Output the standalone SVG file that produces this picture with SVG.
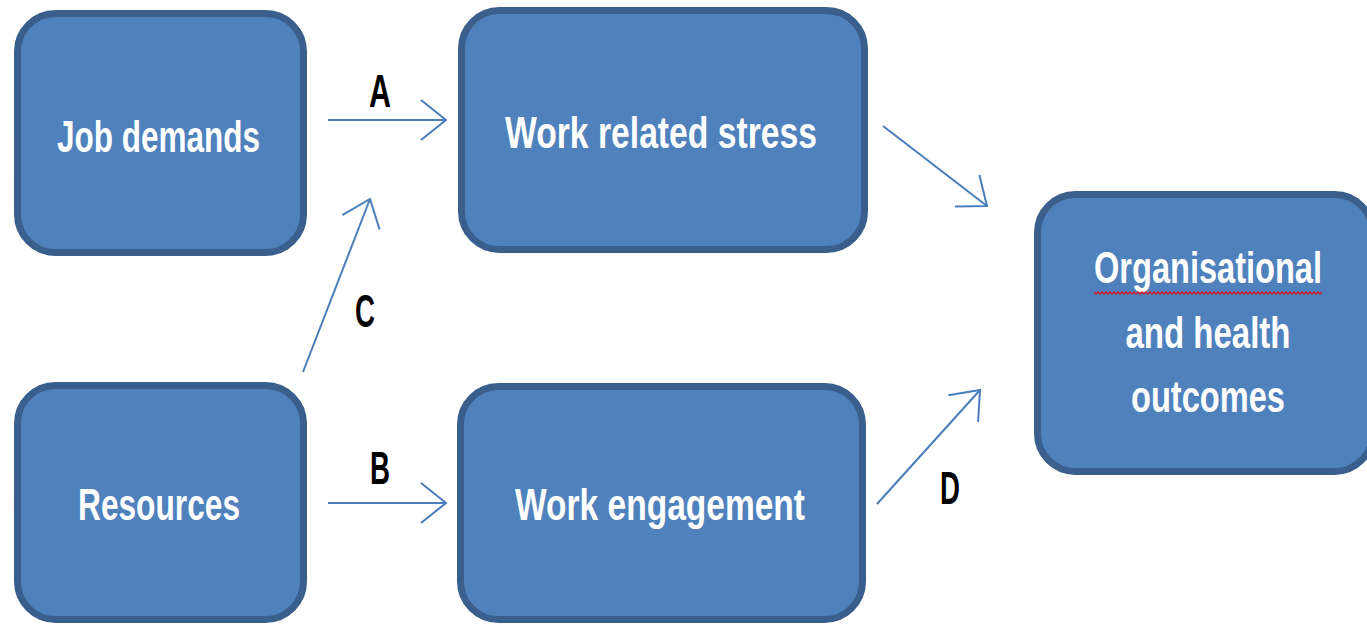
<svg xmlns="http://www.w3.org/2000/svg" width="1367" height="625" viewBox="0 0 1367 625">
<style>
.box{fill:#4f81bd;stroke:#3a5f8c;stroke-width:7}
.t{font-family:"Liberation Sans",Arial,sans-serif;font-weight:bold;font-size:45px;fill:#ffffff;text-anchor:middle}
.lbl{font-family:"Liberation Sans",Arial,sans-serif;font-weight:bold;font-size:46px;fill:#000000;text-anchor:middle}
.c{fill:none;stroke:#4a7ebb;stroke-width:2}
</style>
<defs>
<marker id="ah" markerUnits="userSpaceOnUse" markerWidth="40" markerHeight="50" refX="0" refY="0" viewBox="-30 -25 35 50" orient="auto" overflow="visible">
<path d="M-25,-20 L0,0 L-25,20" fill="none" stroke="#4a7ebb" stroke-width="2"/>
</marker>
</defs>
<rect width="1367" height="625" fill="#ffffff"/>
<g id="job-demands">
<rect class="box" x="17.5" y="13.5" width="286" height="239" rx="38"/>
<text class="t" x="158.5" y="152" textLength="203" lengthAdjust="spacingAndGlyphs">Job demands</text>
</g>
<g id="resources">
<rect class="box" x="17.5" y="385.5" width="286" height="234" rx="38"/>
<text class="t" x="159" y="520" textLength="162" lengthAdjust="spacingAndGlyphs">Resources</text>
</g>
<g id="work-related-stress">
<rect class="box" x="461.5" y="10.5" width="403" height="239" rx="38"/>
<text class="t" x="661" y="148" textLength="312" lengthAdjust="spacingAndGlyphs">Work related stress</text>
</g>
<g id="work-engagement">
<rect class="box" x="460.5" y="386.5" width="402" height="233" rx="38"/>
<text class="t" x="660" y="520" textLength="290" lengthAdjust="spacingAndGlyphs">Work engagement</text>
</g>
<g id="outcomes">
<rect class="box" x="1037.5" y="194.5" width="335" height="277" rx="38"/>
<text class="t" x="1208" y="283" textLength="228" lengthAdjust="spacingAndGlyphs">Organisational</text>
<path d="M1094,292 l2,2 l2,-2 l2,2 l2,-2 l2,2 l2,-2 l2,2 l2,-2 l2,2 l2,-2 l2,2 l2,-2 l2,2 l2,-2 l2,2 l2,-2 l2,2 l2,-2 l2,2 l2,-2 l2,2 l2,-2 l2,2 l2,-2 l2,2 l2,-2 l2,2 l2,-2 l2,2 l2,-2 l2,2 l2,-2 l2,2 l2,-2 l2,2 l2,-2 l2,2 l2,-2 l2,2 l2,-2 l2,2 l2,-2 l2,2 l2,-2 l2,2 l2,-2 l2,2 l2,-2 l2,2 l2,-2 l2,2 l2,-2 l2,2 l2,-2 l2,2 l2,-2 l2,2 l2,-2 l2,2 l2,-2 l2,2 l2,-2 l2,2 l2,-2 l2,2 l2,-2 l2,2 l2,-2 l2,2 l2,-2 l2,2 l2,-2 l2,2 l2,-2 l2,2 l2,-2 l2,2 l2,-2 l2,2 l2,-2 l2,2 l2,-2 l2,2 l2,-2 l2,2 l2,-2 l2,2 l2,-2 l2,2 l2,-2 l2,2 l2,-2 l2,2 l2,-2 l2,2 l2,-2 l2,2 l2,-2 l2,2 l2,-2 l2,2 l2,-2 l2,2 l2,-2 l2,2 l2,-2 l2,2 l2,-2 l2,2 l2,-2 l2,2 l2,-2 l2,2 l2,-2" fill="none" stroke="#d0202a" stroke-width="1.4"/>
<text class="t" x="1208" y="348" textLength="165" lengthAdjust="spacingAndGlyphs">and health</text>
<text class="t" x="1208" y="412" textLength="154" lengthAdjust="spacingAndGlyphs">outcomes</text>
</g>
<g id="connectors">
<line class="c" x1="328" y1="120" x2="446" y2="120" marker-end="url(#ah)"/>
<line class="c" x1="328" y1="503" x2="446" y2="503" marker-end="url(#ah)"/>
<line class="c" x1="303" y1="372" x2="370" y2="199" marker-end="url(#ah)"/>
<line class="c" x1="883" y1="126" x2="987" y2="206" marker-end="url(#ah)"/>
<line class="c" x1="877" y1="504" x2="980" y2="390" marker-end="url(#ah)"/>
<text class="lbl" x="380" y="107" textLength="22" lengthAdjust="spacingAndGlyphs">A</text>
<text class="lbl" x="380" y="484" textLength="20" lengthAdjust="spacingAndGlyphs">B</text>
<text class="lbl" x="365" y="327" textLength="20" lengthAdjust="spacingAndGlyphs">C</text>
<text class="lbl" x="950" y="504" textLength="20" lengthAdjust="spacingAndGlyphs">D</text>
</g>
</svg>
